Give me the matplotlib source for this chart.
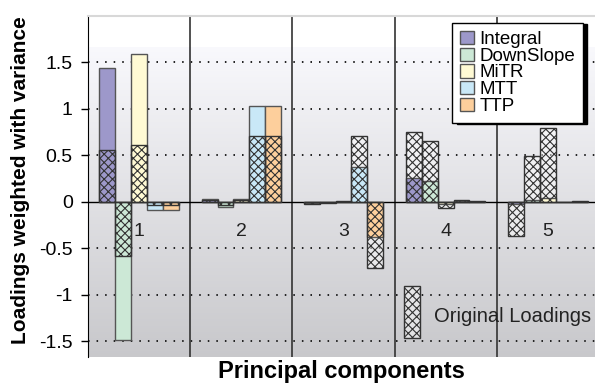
import numpy as np
import matplotlib
matplotlib.use("Agg")
import matplotlib.pyplot as plt
from matplotlib.ticker import FixedLocator, FixedFormatter

plt.rcParams['font.family'] = ['Liberation Sans', 'DejaVu Sans']
plt.rcParams['axes.unicode_minus'] = False
plt.rcParams['hatch.linewidth'] = 0.8

# --- Data ---
components = [1, 2, 3, 4, 5]
parameters = ['Integral', 'DownSlope', 'MiTR', 'MTT', 'TTP']
colors = ['#9d98ca', '#cce8d6', '#fffad4', '#c9e8f7', '#fdcf9c']

# loadings weighted with the explained variance (coloured bars)
weighted = {
    'Integral':  [1.44, 0.03, -0.01, 0.255, -0.018],
    'DownSlope': [-1.48, -0.05, -0.006, 0.225, 0.02],
    'MiTR':      [1.59, 0.03, 0.004, -0.024, 0.04],
    'MTT':       [-0.085, 1.03, 0.38, 0.007, 0.002],
    'TTP':       [-0.085, 1.03, -0.38, 0.003, 0.004],
}
# original (unweighted) loadings (hatched bars)
original = {
    'Integral':  [0.56, 0.02, -0.02, 0.75, -0.37],
    'DownSlope': [-0.58, -0.035, -0.01, 0.66, 0.495],
    'MiTR':      [0.61, 0.02, 0.005, -0.07, 0.79],
    'MTT':       [-0.033, 0.71, 0.71, 0.02, 0.003],
    'TTP':       [-0.033, 0.71, -0.71, 0.005, 0.01],
}

ytick_vals = [1.5, 1, 0.5, 0, -0.5, -1, -1.5]
ytick_text = ['1.5', '1', '0.5', '0', '-0.5', '-1', '-1.5']

# --- Figure ---
fig = plt.figure(figsize=(5.95, 3.87), dpi=100)
ax = fig.add_axes([88 / 595, 1 - 357 / 387, 511 / 595, 341 / 387])
ax.set_xlim(0.5, 5.5)
ax.set_ylim(-1.668, 2.0)

# grey gradient background, white strip on top
grad = np.linspace(0.975, 0.785, 256).reshape(-1, 1)
bg = np.dstack([grad, grad, grad * 1.01 + 0.005]).clip(0, 1)
ax.imshow(bg, extent=(0.5, 5.5, -1.668, 1.66), aspect='auto', zorder=0,
          interpolation='bilinear')

# dotted grid and group dividers
for y in [-1.5, -1, -0.5, 0.5, 1, 1.5]:
    ax.axhline(y, color='#222222', lw=1.4, ls=(0, (0.8, 3.6)), zorder=1)
for x in [1.5, 2.5, 3.5, 4.5]:
    ax.axvline(x, color='#333333', lw=1.2, zorder=1)
ax.axhline(0, color='black', lw=1.0, zorder=1.5)

width = 0.155
offsets = np.array([-2, -1, 0, 1, 2]) * width
xs = np.array(components, dtype=float)
hatch = 'xxxx'

for k, name in enumerate(parameters):
    pos = xs + offsets[k]
    # light fill of the original loadings
    ax.bar(pos, original[name], width, color=(1, 1, 1, 0.45), lw=0, zorder=2)
    # weighted loadings
    ax.bar(pos, weighted[name], width, color=colors[k], edgecolor='#555555',
           lw=1.0, zorder=3, label=name)
    # hatch of the original loadings
    ax.bar(pos, original[name], width, facecolor='none', edgecolor='#333333',
           hatch=hatch, lw=1.0, zorder=4)

# component numbers
for c in components:
    ax.text(c, -0.32, str(c), ha='center', va='center', fontsize=14,
            color='#222222', zorder=5)

# key for the hatched bars
ax.bar(4 - 0.33, -0.56, width, bottom=-0.90, color=(1, 1, 1, 0.45), lw=0, zorder=2)
ax.bar(4 - 0.33, -0.56, width, bottom=-0.90, facecolor='none',
       edgecolor='#333333', hatch=hatch, lw=1.0, zorder=4)
ax.text(3.89, -1.23, 'Original Loadings', fontsize=14.5, va='center',
        ha='left', color='#222222', zorder=5)

# axes styling
ax.yaxis.set_major_locator(FixedLocator(ytick_vals))
ax.yaxis.set_major_formatter(FixedFormatter(ytick_text))
ax.set_xticks([])
ax.tick_params(axis='y', direction='out', length=5, width=1, labelsize=14,
               pad=6, colors='black')
ax.spines['right'].set_visible(False)
ax.spines['bottom'].set_visible(False)
ax.spines['top'].set_color('#d8d8d8')
ax.spines['top'].set_linewidth(1.5)
ax.spines['left'].set_color('black')

leg = ax.legend(loc='upper right', bbox_to_anchor=(583 / 595, 1 - 23 / 387),
                bbox_transform=fig.transFigure, borderaxespad=0,
                fontsize=13.5, handlelength=0.72, handleheight=0.72,
                handletextpad=0.3, labelspacing=-0.03, borderpad=0.42,
                fancybox=False, framealpha=1, edgecolor='black',
                shadow={'color': 'black', 'alpha': 1, 'ox': 3, 'oy': -1})
leg.get_frame().set_linewidth(1.0)
leg.set_zorder(6)

fig.text(0.034, 0.535, 'Loadings weighted with variance', rotation=90,
         ha='center', va='center', fontsize=15, fontweight='bold')
fig.text(341 / 595, 1 - 378 / 387, 'Principal components', ha='center',
         va='baseline', fontsize=17, fontweight='bold')

fig.savefig('out.png', dpi=100)
